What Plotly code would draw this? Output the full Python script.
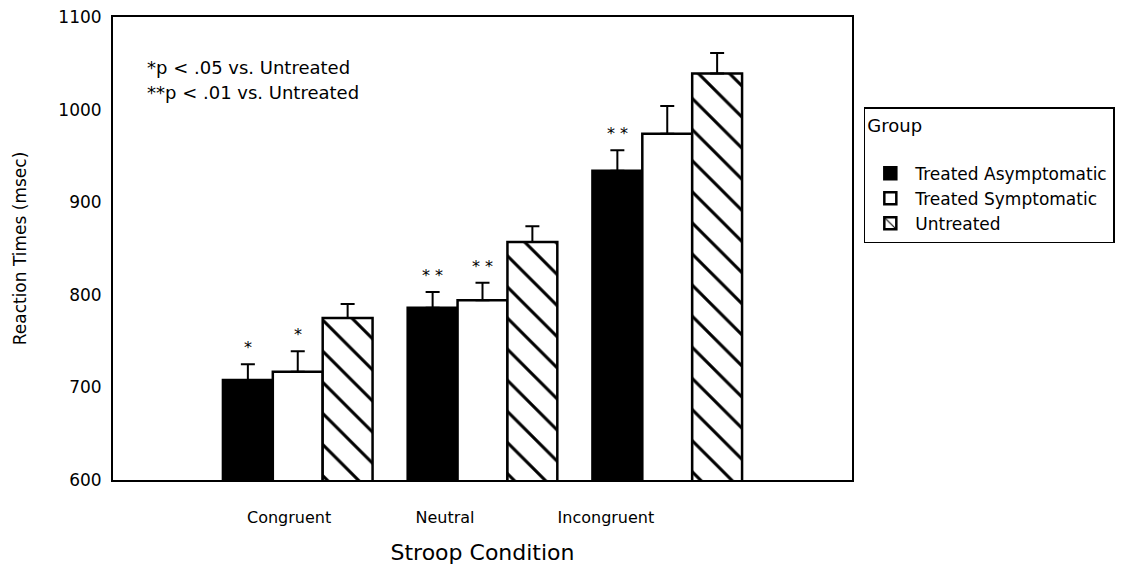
import plotly.graph_objects as go

categories = ["Congruent", "Neutral", "Incongruent"]
groups = ["Treated Asymptomatic", "Treated Symptomatic", "Untreated"]
means = {
    "Treated Asymptomatic": [708, 786, 934],
    "Treated Symptomatic": [717, 794, 974],
    "Untreated": [775, 857, 1039],
}
errors = {
    "Treated Asymptomatic": [17, 17, 22],
    "Treated Symptomatic": [22, 19, 30],
    "Untreated": [15, 17, 22],
}
stars = {
    "Treated Asymptomatic": ["*", "* *", "* *"],
    "Treated Symptomatic": ["*", "* *", ""],
    "Untreated": ["", "", ""],
}

FONT = "DejaVu Sans"
styles = {
    "Treated Asymptomatic": dict(color="black"),
    "Treated Symptomatic": dict(color="white"),
    "Untreated": dict(color="white",
                      pattern=dict(shape="\\", fgcolor="black", bgcolor="white",
                                   fgopacity=1, size=22, solidity=0.14,
                                   fillmode="overlay")),
}

xpos = [1, 2, 3]
# the original's category labels sit a little left of the bar groups
label_pos = [0.953, 1.797, 2.668]
bw = 0.27
fig = go.Figure()
annotations = []
for i, g in enumerate(groups):
    off = -1.5 * bw + i * bw
    st = styles[g]
    marker = dict(color=st["color"], line=dict(color="black", width=2.5))
    if "pattern" in st:
        marker["pattern"] = st["pattern"]
    fig.add_trace(go.Bar(
        name=g, x=xpos, y=means[g], width=bw, offset=off,
        marker=marker,
        error_y=dict(type="data", symmetric=False, array=errors[g],
                     arrayminus=[0] * 3, color="black", thickness=2, width=7),
    ))
    for j, s in enumerate(stars[g]):
        if s:
            annotations.append(dict(
                x=xpos[j] + off + bw / 2, y=means[g][j] + errors[g][j],
                xref="x", yref="y", text=s, showarrow=False,
                yanchor="bottom", yshift=5,
                font=dict(family=FONT, size=16, color="black")))

annotations += [
    dict(x=0.043, y=0.892, xref="paper", yref="paper", xanchor="left",
         yanchor="middle", text="*p < .05 vs. Untreated", showarrow=False,
         font=dict(family=FONT, size=18, color="black")),
    dict(x=0.043, y=0.836, xref="paper", yref="paper", xanchor="left",
         yanchor="middle", text="**p < .01 vs. Untreated", showarrow=False,
         font=dict(family=FONT, size=18, color="black")),
]

# page body adds an 8px offset, margins compensate
fig.update_layout(
    width=1144, height=572,
    margin=dict(l=105, r=300, t=9, b=100, autoexpand=False),
    plot_bgcolor="white", paper_bgcolor="white",
    barmode="overlay",
    font=dict(family=FONT, size=16, color="black"),
    xaxis=dict(range=[0, 4], tickvals=label_pos, ticktext=categories,
               showgrid=False, zeroline=False, ticks="", automargin=False,
               showline=True, linecolor="black", linewidth=2, mirror=True,
               tickfont=dict(size=16), ticklabelstandoff=22,
               title=dict(text="Stroop Condition", font=dict(size=22), standoff=18)),
    yaxis=dict(range=[600, 1100], tickvals=[600, 700, 800, 900, 1000, 1100],
               showgrid=False, zeroline=False, ticks="", automargin=False,
               showline=True, linecolor="black", linewidth=2, mirror=True,
               tickfont=dict(size=17), ticklabelstandoff=6,
               ticklabeloverflow="allow",
               title=dict(text="Reaction Times (msec)", font=dict(size=17), standoff=27)),
    legend=dict(x=1.016, y=0.805, xanchor="left", yanchor="top",
                title=dict(text="Group<br>", font=dict(size=18)),
                bordercolor="black", borderwidth=1.5, bgcolor="white",
                font=dict(size=17), itemwidth=40, tracegroupgap=0),
    annotations=annotations,
    showlegend=True,
)

fig.write_html("out.html")
